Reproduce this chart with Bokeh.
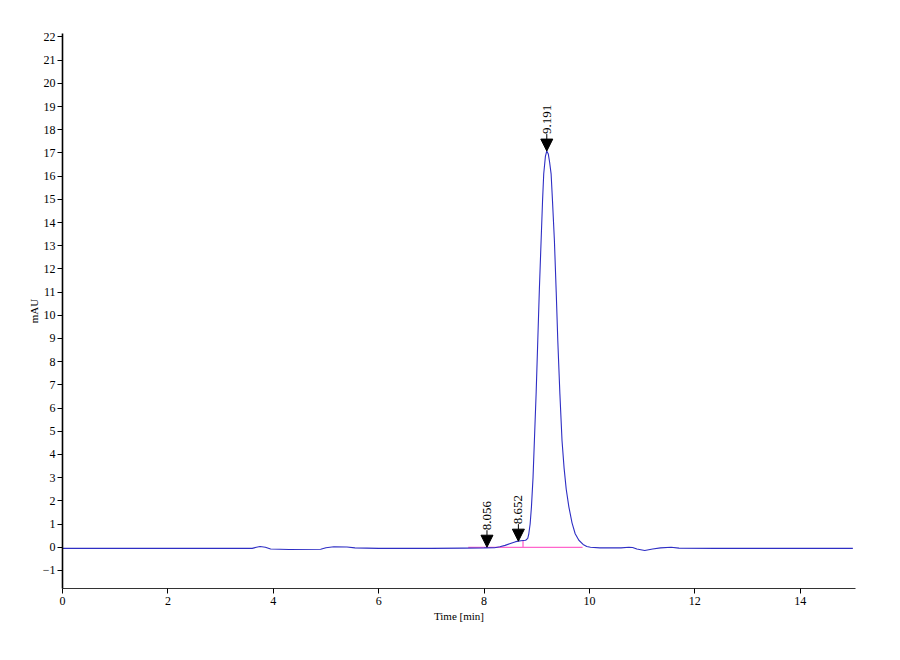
import math
from bokeh.plotting import figure
from bokeh.models import Range1d, FixedTicker, Arrow, NormalHead, ColumnDataSource
from bokeh.core.properties import value
from bokeh.embed import file_html
from bokeh.resources import INLINE

# ---- data ----
time_min = [0.0, 1.0, 2.0, 3.0, 3.6, 3.68, 3.75, 3.85, 3.95, 4.3, 4.9, 5.0, 5.15, 5.4, 5.55,
            6.0, 7.0, 7.6, 8.0, 8.2, 8.3, 8.4, 8.5, 8.6, 8.7, 8.79,
            8.83, 8.85, 8.875, 8.90, 8.93, 8.956, 8.99, 9.02, 9.05, 9.083, 9.11, 9.133, 9.165, 9.19,
            9.22, 9.245, 9.273, 9.30, 9.336, 9.37, 9.40, 9.44, 9.48, 9.52, 9.56, 9.61, 9.67, 9.73,
            9.80, 9.88, 9.95, 10.02, 10.2, 10.6, 10.75, 10.82, 10.9, 11.05, 11.2, 11.35, 11.55, 11.7,
            12.4, 13.0, 14.0, 15.0]
signal_mau = [-0.05, -0.05, -0.05, -0.05, -0.05, 0.0, 0.03, 0.0, -0.08, -0.1, -0.09, -0.02, 0.02, 0.01, -0.03,
              -0.05, -0.05, -0.04, -0.03, -0.02, 0.02, 0.08, 0.16, 0.24, 0.28, 0.30,
              0.38, 0.58, 1.0, 1.74, 3.0, 4.6, 6.7, 8.9, 11.1, 13.2, 14.9, 16.1, 16.85, 17.08,
              16.95, 16.6, 16.1, 14.9, 13.2, 11.0, 8.9, 6.6, 4.6, 3.4, 2.5, 1.74, 1.05, 0.58,
              0.30, 0.12, 0.03, 0.0, -0.03, -0.03, 0.0, -0.01, -0.08, -0.14, -0.08, -0.03, 0.0, -0.04,
              -0.05, -0.05, -0.05, -0.05]

peak_times = [8.056, 8.652, 9.191]
peak_heights = [0.0, 0.26, 17.08]
peak_labels = ["8.056", "8.652", "9.191"]

baseline_t = [7.7, 9.87]
baseline_v = [-0.01, -0.01]
drop_t = [8.74, 8.74]
drop_v = [-0.01, 0.28]

x_ticks = [0, 2, 4, 6, 8, 10, 12, 14]
y_ticks = list(range(-1, 23))

FONT = "Liberation Serif"

p = figure(width=880, height=640, x_range=Range1d(0, 15.05), y_range=Range1d(-1.78, 22.15),
           output_backend="svg", toolbar_location=None,
           min_border_left=62, min_border_right=25, min_border_top=33, min_border_bottom=52)
p.outline_line_color = None
p.xgrid.visible = False
p.ygrid.visible = False
p.background_fill_color = "white"

for ax in (p.xaxis, p.yaxis):
    ax.major_label_text_font = FONT
    ax.major_label_text_font_size = "12px"
    ax.major_label_text_color = "black"
    ax.axis_label_text_font = FONT
    ax.axis_label_text_font_size = "11px"
    ax.axis_label_text_font_style = "normal"
    ax.axis_label_text_color = "black"
    ax.major_tick_in = 0
    ax.major_tick_out = 5
    ax.minor_tick_in = 0
    ax.minor_tick_out = 0
    ax.major_tick_line_color = "black"

p.xaxis.ticker = FixedTicker(ticks=x_ticks)
p.yaxis.ticker = FixedTicker(ticks=y_ticks)
p.xaxis.axis_label = "Time [min]"
p.yaxis.axis_label = "mAU"
p.xaxis.axis_line_color = "#333333"
p.xaxis.axis_line_width = 1.2
p.yaxis.axis_line_color = "black"
p.yaxis.axis_line_width = 1.6
p.xaxis.major_label_standoff = 3
p.yaxis.major_label_standoff = 2
p.xaxis.axis_label_standoff = 2
p.yaxis.axis_label_standoff = 0

# baseline (pink)
p.line(baseline_t, baseline_v, line_color="#FF66CC", line_width=1.3)
p.line(drop_t, drop_v, line_color="#FF66CC", line_width=1.3)

# chromatogram
p.line(time_min, signal_mau, line_color="#2E2EC4", line_width=1.1)

# peak markers
units_per_px = (22.15 + 1.78) / 555.0
arrow_len = 17 * units_per_px
src = ColumnDataSource(data=dict(
    x=peak_times,
    ye=peak_heights,
    ys=[h + arrow_len for h in peak_heights],
    lab=peak_labels,
))
p.add_layout(Arrow(end=NormalHead(size=12, fill_color="black", line_color="black"),
                   x_start="x", y_start="ys", x_end="x", y_end="ye",
                   line_color="black", line_width=1, source=src))
p.text(x="x", y="ys", text="lab", source=src, angle=math.pi / 2,
       text_align="left", text_baseline="middle",
       text_font=value(FONT), text_font_size="13px", text_color="black")

open("out.html", "w").write(file_html(p, INLINE))
